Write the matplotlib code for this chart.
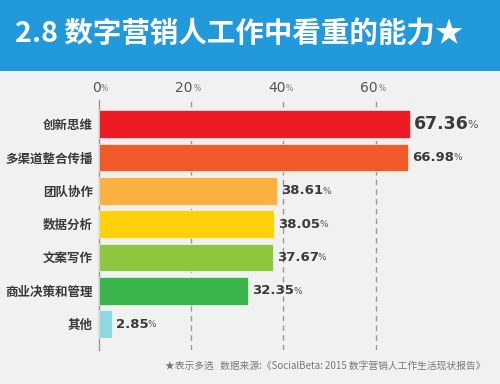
import matplotlib
matplotlib.use('Agg')
import matplotlib.pyplot as plt
from matplotlib.patches import Rectangle

plt.rcParams['font.family'] = ['Noto Sans CJK SC', 'DejaVu Sans']

# data
categories = ['创新思维', '多渠道整合传播', '团队协作', '数据分析', '文案写作', '商业决策和管理', '其他']
values = [67.36, 66.98, 38.61, 38.05, 37.67, 32.35, 2.85]
bar_colors = ['#ed1c24', '#f15a29', '#fbb040', '#ffd10a', '#8dc63f', '#39b54a', '#8ed8e0']
x_ticks = [0, 20, 40, 60]
title = '2.8 数字营销人工作中看重的能力★'
footnote = '★表示多选   数据来源:《SocialBeta: 2015 数字营销人工作生活现状报告》'

W, H = 500, 384
fig = plt.figure(figsize=(W / 100, H / 100), dpi=100)
fig.patch.set_facecolor('#f1f1f1')

# blue title banner
fig.patches.append(Rectangle((0, 1 - 71 / H), 1, 71 / H, transform=fig.transFigure,
                             facecolor='#2299db', edgecolor='none', zorder=0))
fig.text(15 / W, 1 - 34 / H, title, color='white', fontsize=20.5, fontweight='bold',
         ha='left', va='center')

# axes placed in pixels
ax_left, ax_top, ax_w, ax_bottom = 98.5, 100, 390, 350
ax = fig.add_axes([ax_left / W, 1 - ax_bottom / H, ax_w / W, (ax_bottom - ax_top) / H])
ax.set_facecolor('none')
px_per_unit = 4.62
ax.set_xlim(0, ax_w / px_per_unit)
ax.set_ylim(6.78, -0.72)

pos = list(range(len(categories)))
ax.barh(pos, values, height=0.83, color=bar_colors, edgecolor='#ffffff', linewidth=0.4, zorder=3)

for x in x_ticks[1:]:
    ax.axvline(x, color='#999999', linestyle=(0, (4, 3)), linewidth=1, zorder=1)

for s in ['top', 'right', 'bottom']:
    ax.spines[s].set_visible(False)
ax.spines['left'].set_color('#999999')
ax.spines['left'].set_linewidth(1)

ax.set_xticks([])
ax.set_yticks(pos)
ax.set_yticklabels(categories, fontsize=9, color='#3a3a3a', fontweight='bold')
ax.tick_params(axis='y', length=0, pad=4)

# top tick labels with small percent signs
for x in x_ticks:
    ax.annotate(str(x), xy=(x, -0.72), xytext=(1.5, 9), textcoords='offset points',
                ha='right', va='center', fontsize=10, color='#555555',
                family='DejaVu Sans', annotation_clip=False)
    ax.annotate('%', xy=(x, -0.72), xytext=(1.8, 8.5), textcoords='offset points',
                ha='left', va='center', fontsize=5.5, color='#777777',
                family='DejaVu Sans', annotation_clip=False)

# value labels
fig.canvas.draw()
renderer = fig.canvas.get_renderer()
for i, v in enumerate(values):
    size = 12.5 if i == 0 else 9.5
    t = ax.annotate(f'{v:.2f}', xy=(v, i), xytext=(3, 0), textcoords='offset points',
                    ha='left', va='center', fontsize=size, fontweight='bold',
                    color='#3a3a3a', family='DejaVu Sans', zorder=4)
    bb = t.get_window_extent(renderer)
    x_pix = bb.x1 - 0.8
    y_pix = bb.y0 + bb.height * 0.45
    fig.text(x_pix / W, y_pix / H, '%', fontsize=6.5 if i else 8, color='#555555',
             family='DejaVu Sans', ha='left', va='center')

fig.text(485 / W, 1 - 366 / H, footnote, fontsize=7, color='#777777', ha='right', va='center')

fig.savefig('out.png', dpi=100, facecolor=fig.get_facecolor())
